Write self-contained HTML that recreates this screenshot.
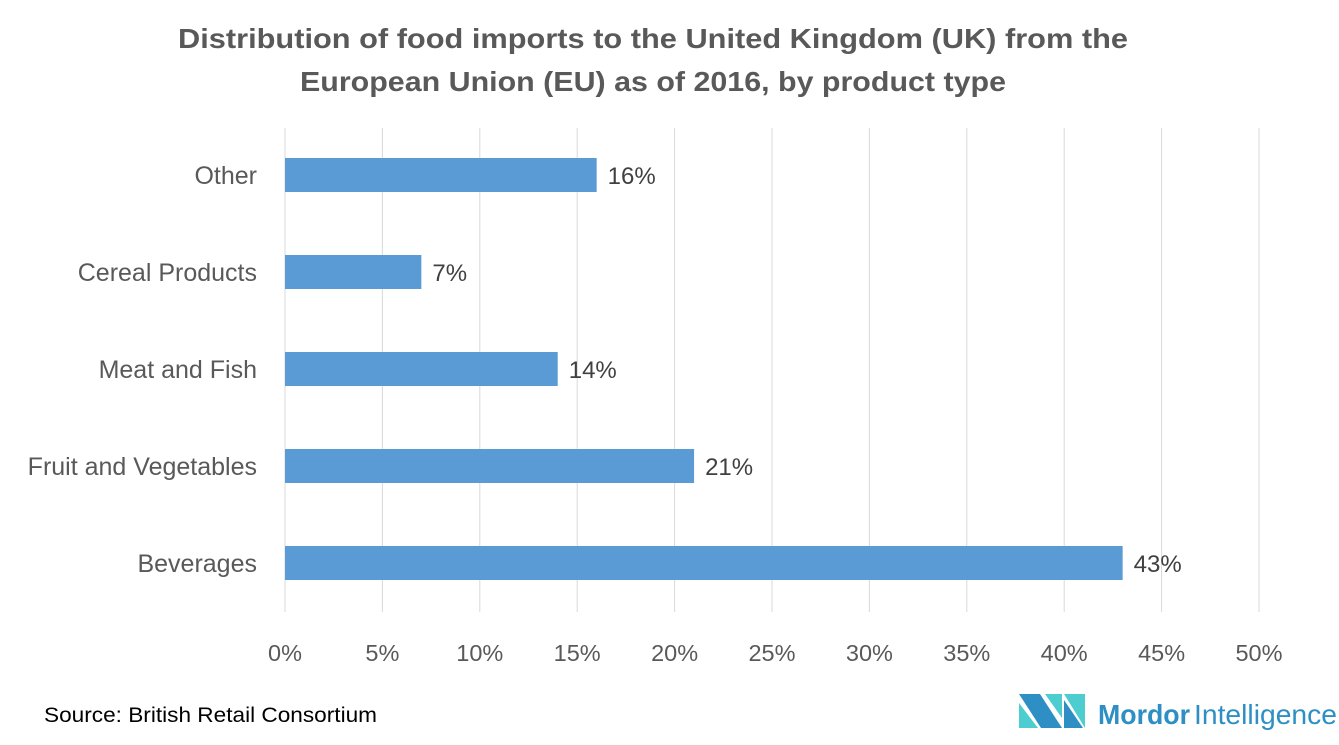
<!DOCTYPE html>
<html><head><meta charset="utf-8"><style>
body{margin:0;background:#fff;}
svg{display:block;font-family:"Liberation Sans",sans-serif;}
</style></head><body>
<svg id="chart" width="1339" height="745" viewBox="0 0 1339 745">
<text x="653" y="48" text-anchor="middle" font-size="28" font-weight="bold" fill="#595959" textLength="950" lengthAdjust="spacingAndGlyphs">Distribution of food imports to the United Kingdom (UK) from the</text>
<text x="653" y="91" text-anchor="middle" font-size="28" font-weight="bold" fill="#595959" textLength="706" lengthAdjust="spacingAndGlyphs">European Union (EU) as of 2016, by product type</text>
<g id="grid"></g>
<g id="bars"></g>
<g id="xticks"></g>
<g id="ylabels"></g>
<text x="44" y="722" font-size="21" fill="#000" textLength="333" lengthAdjust="spacingAndGlyphs">Source: British Retail Consortium</text>
<g>
<polygon points="1019,694 1040,694 1062,728 1041,728" fill="#2e8fc4"/>
<polygon points="1019,703 1038,728 1019,728" fill="#4ecdd1"/>
<polygon points="1045,694 1062,694 1062,718" fill="#4ecdd1"/>
<polygon points="1064,694 1085,694 1085,728" fill="#4ecdd1"/>
<polygon points="1064,700 1083,728 1064,728" fill="#2e8fc4"/>
<text x="1098" y="724" font-size="28" font-weight="bold" fill="#2e8fc4" textLength="92" lengthAdjust="spacingAndGlyphs">Mordor</text>
<text x="1194" y="724" font-size="28" fill="#2e8fc4" textLength="143" lengthAdjust="spacingAndGlyphs">Intelligence</text>
</g>
</svg>
<script>
const categories=["Other","Cereal Products","Meat and Fish","Fruit and Vegetables","Beverages"];
const values=[16,7,14,21,43];
const ticks=[0,5,10,15,20,25,30,35,40,45,50];
const NS="http://www.w3.org/2000/svg";
const x0=285,x1=1259,xmax=50,yTop=128,yBot=612,row0=175,rowStep=97,barH=34;
const xs=v=>x0+(v/xmax)*(x1-x0);
const ys=i=>row0+i*rowStep;
function mk(tag,attrs,parent){const e=document.createElementNS(NS,tag);for(const k in attrs)e.setAttribute(k,attrs[k]);document.getElementById(parent).appendChild(e);return e;}
ticks.forEach(t=>{
 const l=mk('line',{x1:xs(t),x2:xs(t),y1:yTop,y2:yBot,stroke:'#d9d9d9','stroke-width':1},'grid');
 
 
 const tx=mk('text',{x:xs(t),y:661,'text-anchor':'middle','font-size':23.5,fill:'#595959'},'xticks');
 tx.textContent=t+'%';
 
 
});
categories.forEach((c,i)=>{
 const r=mk('rect',{x:x0,y:ys(i)-barH/2,width:xs(values[i])-x0,height:barH,fill:'#5b9bd5'},'bars');
 
 
 const v=mk('text',{x:xs(values[i])+11,y:ys(i)+9,'font-size':24,fill:'#404040'},'bars');
 v.textContent=values[i]+'%';
 
 
 const lb=mk('text',{x:257,y:ys(i)+9,'text-anchor':'end','font-size':25,fill:'#595959'},'ylabels');
 lb.textContent=c;
 
 
});
</script>
</body></html>
